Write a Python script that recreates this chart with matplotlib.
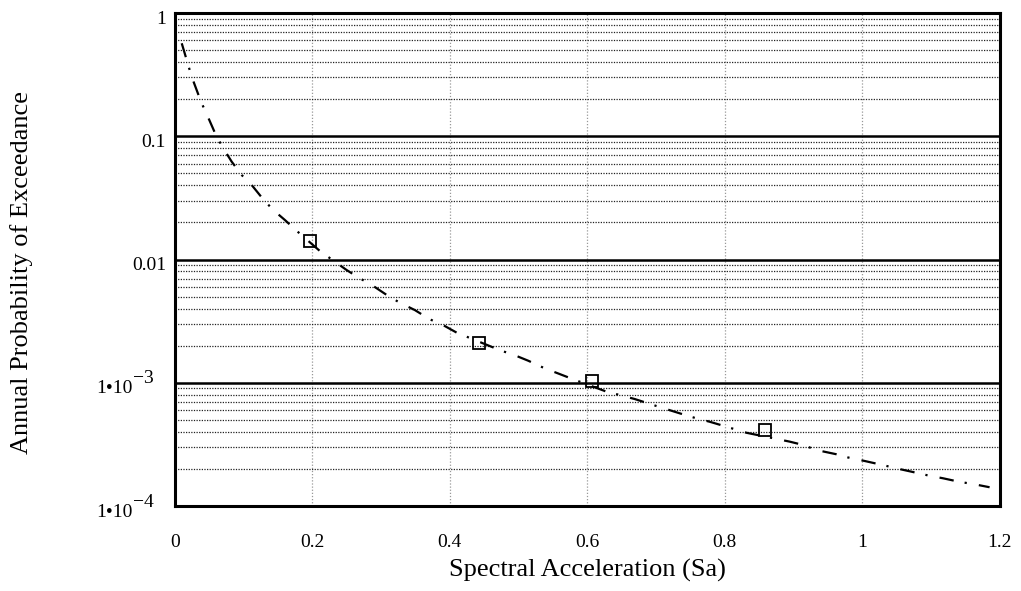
import matplotlib
matplotlib.use("Agg")
import matplotlib.pyplot as plt
from matplotlib.ticker import FixedLocator, FixedFormatter, LogLocator, NullFormatter
import matplotlib.transforms as mtransforms

# Data
curve_x = [0.0098, 0.017, 0.0243, 0.0378, 0.0499, 0.0596, 0.0703, 0.0825, 0.097, 0.1116,
           0.1284, 0.143, 0.160, 0.177, 0.211, 0.2497, 0.2667, 0.2885, 0.3103, 0.3273,
           0.349, 0.371, 0.390, 0.41, 0.4727, 0.497, 0.514, 0.538, 0.5576, 0.579,
           0.628, 0.647, 0.669, 0.696, 0.7345, 0.759, 0.778, 0.8025, 0.8316, 0.8945,
           0.914, 0.933, 0.9625, 0.979, 1.0036, 1.030, 1.050, 1.0716, 1.098, 1.1175,
           1.1418, 1.161, 1.1855]
curve_y = [0.568, 0.416, 0.304, 0.191, 0.1355, 0.102, 0.0798, 0.0622, 0.0485, 0.0402,
           0.0308, 0.0252, 0.0209, 0.0171, 0.0117, 0.00822, 0.00716, 0.0061, 0.00506, 0.00446,
           0.00389, 0.00327, 0.00294, 0.00255, 0.00184, 0.00165, 0.00151, 0.00131, 0.00119, 0.00107,
           0.000847, 0.000796, 0.000738, 0.00066, 0.000565, 0.000514, 0.000483, 0.00044, 0.000393, 0.000333,
           0.000313, 0.000285, 0.000263, 0.000248, 0.000232, 0.000215, 0.000202, 0.00019, 0.000176, 0.000168,
           0.000157, 0.000151, 0.000142]
pts_x = [0.196, 0.442, 0.607, 0.858]
pts_y = [0.0141, 0.0021, 0.00103, 0.00041]
x_ticks = [0, 0.2, 0.4, 0.6, 0.8, 1.0, 1.2]
x_labels = ["0", "0.2", "0.4", "0.6", "0.8", "1", "1.2"]
y_ticks = [1, 0.1, 0.01, 1e-3, 1e-4]
y_mant = ["1", "0.1", "0.01", "1•10", "1•10"]
y_exp = ["", "", "", "\u22123", "\u22124"]

plt.rcParams['font.family'] = ['Liberation Serif', 'DejaVu Serif']

fig = plt.figure(figsize=(10.21, 5.91), dpi=100)
ax = fig.add_axes([0.1714, 0.1438, 0.979 - 0.1714, 0.978 - 0.1438])

ax.set_yscale('log')
ax.set_xlim(0, 1.2)
ax.set_ylim(1e-4, 1)

ax.yaxis.set_major_locator(FixedLocator(y_ticks))
ax.yaxis.set_major_formatter(NullFormatter())
ax.yaxis.set_minor_locator(LogLocator(base=10, subs=range(2, 10)))
ax.yaxis.set_minor_formatter(NullFormatter())
ax.xaxis.set_major_locator(FixedLocator(x_ticks))
ax.xaxis.set_major_formatter(FixedFormatter(x_labels))

ax.grid(True, which='major', axis='y', color='black', linewidth=1.8, linestyle='-')
ax.grid(True, which='minor', axis='y', color='#222222', linewidth=0.9, linestyle=(0, (1, 1.1)))
ax.grid(True, which='major', axis='x', color='#999999', linewidth=0.9, linestyle=(0, (1, 1.5)))
ax.set_axisbelow(True)

ax.tick_params(which='both', length=0, labelsize=14)
ax.tick_params(axis='x', pad=20)

# y tick labels as texts
trans = mtransforms.blended_transform_factory(ax.transAxes, ax.transData)
off = mtransforms.ScaledTranslation(0, -6 / 100, fig.dpi_scale_trans)
for v, m, e in zip(y_ticks, y_mant, y_exp):
    if e:
        ax.text(-0.052, v, m, transform=trans + off, ha='right', va='center', fontsize=14)
        ax.text(-0.052, v, e, transform=trans + mtransforms.ScaledTranslation(0.01, 4 / 100, fig.dpi_scale_trans),
                ha='left', va='center', fontsize=14)
    else:
        ax.text(-0.011, v, m, transform=trans + off, ha='right', va='center', fontsize=14)

for s in ax.spines.values():
    s.set_linewidth(2.2)
    s.set_color('black')

ax.plot(curve_x, curve_y, color='black', linewidth=1.6, linestyle=(0, (6.5, 5, 1, 5.5)))
ax.plot(pts_x, pts_y, linestyle='none', marker='s', markersize=9, markerfacecolor='none',
        markeredgecolor='black', markeredgewidth=1.3)

ax.set_xlabel("Spectral Acceleration (Sa)", fontsize=19, labelpad=6)
ax.set_ylabel("Annual Probability of Exceedance", fontsize=19)
ax.yaxis.set_label_coords(-0.172, 0.473)

fig.savefig("out.png", dpi=100)
